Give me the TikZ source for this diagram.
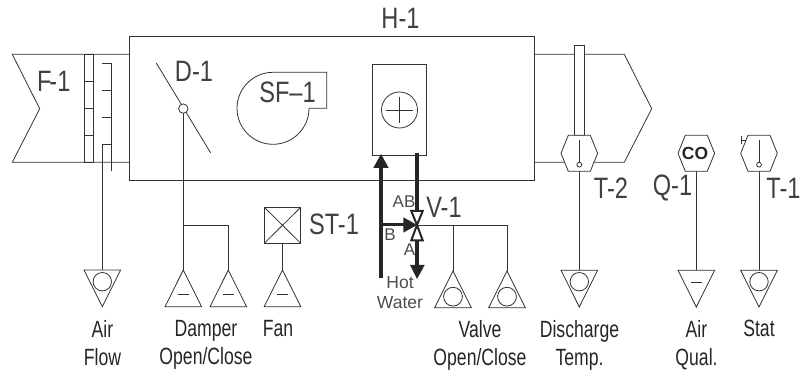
\documentclass[tikz,border=0pt]{standalone}
\usepackage{fontspec}
\setmainfont{Liberation Sans}
\newfontfamily\labfont[FakeStretch=0.75]{Liberation Sans}
\newfontfamily\tagfont[FakeStretch=0.8]{Liberation Sans}
\newcommand{\ls}{\rule[-6pt]{0pt}{22pt}}
\tikzset{
  ln/.style={draw=black!80,line width=0.8pt},
  pipe/.style={draw=black!85,line width=4.2pt},
  vtri/.style={draw=black!85,line width=2pt,fill=white},
  tagtxt/.style={text=black!75,inner sep=0pt,font=\tagfont\fontsize{29.5}{29.5}\selectfont},
  smalltxt/.style={text=black!70,inner sep=0pt,font=\fontsize{17}{17}\selectfont},
  labtxt/.style={text=black!85,inner sep=0pt,align=center,font=\labfont\fontsize{23.5}{28}\selectfont},
}
\newcommand{\triup}[2]{\draw[ln,fill=white] (#1,#2) -- (#1-18.3,#2+36.7) -- (#1+18.3,#2+36.7) -- cycle;}
\newcommand{\tridown}[2]{\draw[ln,fill=white] (#1-18.3,#2) -- (#1+18.3,#2) -- (#1,#2+36.7) -- cycle;}
\newcommand{\hexa}[2]{\draw[ln,fill=white] (#1-18.3,#2) -- (#1-11,#2-18) -- (#1+11,#2-18) -- (#1+18.3,#2) -- (#1+11,#2+18) -- (#1-11,#2+18) -- cycle;}
\newcommand{\dial}[2]{\draw[ln] (#1,#2-13.5) -- (#1,#2+9); \draw[ln] (#1,#2+11.4) circle (2.4);}
\begin{document}
\begin{tikzpicture}[x=1pt,y=-1pt]
\useasboundingbox (0,0) rectangle (800,371);
% main casing
\draw[ln] (129.5,36) rectangle (534.7,180.3);
% inlet
\draw[ln] (129.5,54.3) -- (12.3,54.3) -- (39.7,108.7) -- (12.3,162.3) -- (129.5,162.3);
\draw[ln] (84.5,54.3) rectangle (93.5,162.3);
\foreach \y in {81.3,108.3,135.5} \draw[ln] (84.5,\y) -- (93.5,\y);
% flow station
\draw[ln] (102.3,63) -- (111.3,63) -- (111.3,171);
\draw[ln] (102.3,90.3) -- (111.3,90.3);
\draw[ln] (102.3,117.3) -- (111.3,117.3);
\coordinate (fs) at (102.3,144.3);
\draw[ln] (111.3,144.3) -- (fs) -- (102.3,270);
\tridown{102.3}{270}
\draw[ln] (102.3,281.7) circle (9.2);
% damper
\draw[ln] (156.3,63) -- (210.7,153);
\draw[ln] (183.3,113.3) -- (183.3,270);
\draw[ln,fill=white] (183.3,108.6) circle (4.7);
\draw[ln] (183.3,225) -- (228.3,225) -- (228.3,270);
\triup{183.3}{270} \triup{228.3}{270}
\draw[ln] (177.8,294.3) -- (188.8,294.3);
\draw[ln] (222.8,294.3) -- (233.8,294.3);
% fan starter
\draw[ln] (264.3,207.3) rectangle (300.7,243.3);
\draw[ln] (264.3,207.3) -- (300.7,243.3) (264.3,243.3) -- (300.7,207.3);
\draw[ln] (282.5,243.3) -- (282.5,270);
\triup{282.5}{270}
\draw[ln] (277,294.3) -- (288,294.3);
% supply fan
\draw[ln] (309,108.3) -- (326.7,108.3) -- (326.7,72.3) -- (273,72.3) arc (270:0:36);
% coil
\draw[ln] (372.3,64.7) rectangle (426.7,155);
\draw[ln] (399.5,110) circle (18);
\draw[ln] (386,110) -- (413,110) (399.5,97) -- (399.5,123);
% pipes
\draw[pipe] (381,278) -- (381,165);
\fill[black!85] (381,154) -- (388.7,168) -- (373.3,168) -- cycle;
\draw[pipe] (417,153) -- (417,211);
\draw[pipe,line width=3pt] (381,225) -- (405,225);
\fill[black!85] (417,225) -- (403.3,217.3) -- (403.3,232.7) -- cycle;
\draw[pipe] (417,240) -- (417,267);
\fill[black!85] (417,279) -- (410,265) -- (424.7,265) -- cycle;
\draw[vtri] (417,225) -- (411.3,211) -- (422.7,211) -- cycle;
\draw[vtri] (417,225) -- (411.3,240.3) -- (422.7,240.3) -- cycle;
% valve actuators
\draw[ln] (417,225) -- (507,225) -- (507,272);
\draw[ln] (453,225) -- (453,272);
\triup{453}{271} \triup{507}{271}
\draw[ln] (453,296.7) circle (9.4);
\draw[ln] (507,296.7) circle (9.4);
% outlet
\draw[ln] (534.7,54.3) -- (624.3,54.3) -- (651.7,108.7) -- (624.3,162.3) -- (534.7,162.3);
\draw[ln,fill=white] (574.7,45.3) rectangle (584,135.3);
% sensor T-2
\draw[ln] (579.3,171) -- (579.3,270.3);
\hexa{579.3}{153.3} \dial{579.3}{153.3}
\tridown{579.3}{270.3}
\draw[ln] (579.3,281.7) circle (9.2);
% Q-1
\draw[ln] (696.3,171) -- (696.3,270.3);
\hexa{696.3}{153.3}
\tridown{696.3}{270.3}
\draw[ln] (691,282) -- (701.6,282);
% T-1
\draw[ln] (759,171) -- (759,270.3);
\hexa{759}{153.3} \dial{759}{153.3}
\tridown{759}{270.3}
\draw[ln] (759,281.7) circle (9.2);
\draw[ln,line width=0.5pt] (741,136.5) -- (741,144) (741,140) -- (745.5,140);
% tags
\node[tagtxt] (h1) at (400.5,18.5) {H-1};
\node[tagtxt] (f1) at (53.7,81) {F\kern-2pt-1};
\node[tagtxt] (d1) at (194,71.5) {D-1};
\node[tagtxt] (sf1) at (287.5,92) {SF–1};
\node[tagtxt] (st1) at (334,224.5) {ST-1};
\node[tagtxt] (v1) at (444,207.5) {V-1};
\node[tagtxt] (t2) at (611,188) {T-2};
\node[tagtxt] (q1) at (672.5,188) {Q-1};
\node[tagtxt] (t1) at (783.5,188) {T-1};
\node[inner sep=0pt,text=black!85,font=\fontsize{17.5}{17.5}\selectfont\bfseries] (co) at (695,153.5) {CO};
\node[smalltxt] (ab) at (404,202) {AB};
\node[smalltxt] (bt) at (390,234.5) {B};
\node[smalltxt] (at) at (409.5,250) {A};
\node[smalltxt,align=center,font=\fontsize{17.5}{20}\selectfont] (hw) at (400,293) {Hot\\Water};
% labels
\node[labtxt] (l1) at (102.5,345.5) {\ls Air\\\ls Flow};
\node[labtxt] (l2) at (206,345.5) {\ls Damper\\\ls Open/Close};
\node[labtxt] (l3) at (278,345.5) {\ls Fan\\\ls};
\node[labtxt] (l4) at (480,345.5) {\ls Valve\\\ls Open/Close};
\node[labtxt] (l5) at (579.5,345.5) {\ls Discharge\\\ls Temp.};
\node[labtxt] (l6) at (696.5,345.5) {\ls Air\\\ls Qual.};
\node[labtxt] (l7) at (759,345.5) {\ls Stat\\\ls};
\end{tikzpicture}
\end{document}
